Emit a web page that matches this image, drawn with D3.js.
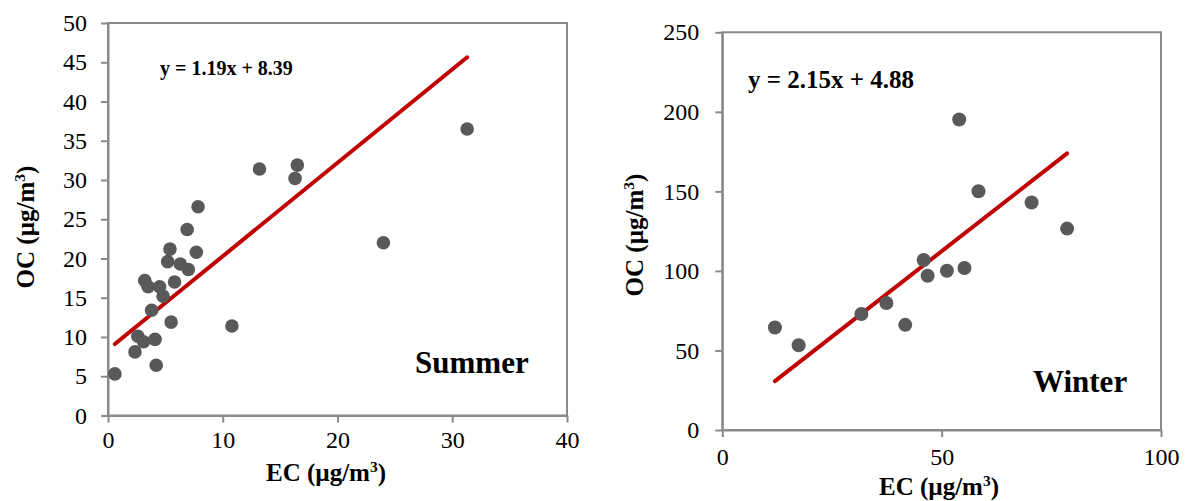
<!DOCTYPE html>
<html>
<head>
<meta charset="utf-8">
<script src="https://cdn.jsdelivr.net/npm/d3@7"></script>
<style>
  html, body { margin: 0; padding: 0; background: #fff; }
  svg text { font-family: "Liberation Serif", "Times New Roman", serif; fill: #000; }
</style>
</head>
<body>
<div id="chart"></div>
<script>
// Summer: EC vs OC (µg/m3)
const summerEC = [0.6, 2.35, 2.6, 3.1, 4.1, 4.2, 3.2, 3.5, 3.8, 4.5, 4.8, 5.5, 5.8, 5.4, 5.2, 6.3, 7.0, 7.7, 6.9, 7.85, 10.8, 13.2, 16.5, 16.3, 24.0, 31.3];
const summerOC = [5.3, 8.1, 10.1, 9.4, 9.7, 6.4, 17.2, 16.4, 13.4, 16.4, 15.2, 11.9, 17.0, 21.2, 19.6, 19.3, 18.6, 20.8, 23.7, 26.6, 11.4, 31.4, 31.9, 30.2, 22.0, 36.5];
const summerFit = { slope: 1.19, intercept: 8.39 };
const summerXTicks = [0, 10, 20, 30, 40];
const summerYTicks = [0, 5, 10, 15, 20, 25, 30, 35, 40, 45, 50];

// Winter
const winterEC = [12.0, 17.4, 31.7, 37.4, 41.7, 45.9, 46.8, 51.2, 55.2, 54.0, 58.4, 70.5, 78.6];
const winterOC = [64.4, 53.3, 72.9, 79.8, 66.1, 106.9, 97.0, 100.1, 101.8, 195.2, 150.1, 143.0, 126.6];
const winterFit = { slope: 2.15, intercept: 4.88 };
const winterXTicks = [0, 50, 100];
const winterYTicks = [0, 50, 100, 150, 200, 250];

const FONT = '"Liberation Serif", "Times New Roman", serif';

const svg = d3.select("#chart").append("svg")
    .attr("width", 1186)
    .attr("height", 501);

svg.append("rect").attr("width", 1186).attr("height", 501).attr("fill", "#fff");

function drawPanel(p) {
    const x = d3.scaleLinear().domain([0, p.xTicks[p.xTicks.length - 1]]).range([p.left, p.right]);
    const y = d3.scaleLinear().domain([0, p.yTicks[p.yTicks.length - 1]]).range([p.bottom, p.top]);
    const g = svg.append("g");

    // plot frame
    g.append("rect")
        .attr("x", p.left).attr("y", p.top)
        .attr("width", p.right - p.left).attr("height", p.bottom - p.top)
        .attr("fill", "none").attr("stroke", "#898989").attr("stroke-width", 2);

    const xAxis = g.append("g")
        .attr("transform", `translate(0,${p.bottom})`)
        .call(d3.axisBottom(x).tickValues(p.xTicks).tickSize(7).tickSizeOuter(0).tickPadding(p.xPad));
    const yAxis = g.append("g")
        .attr("transform", `translate(${p.left},0)`)
        .call(d3.axisLeft(y).tickValues(p.yTicks).tickSize(7).tickSizeOuter(0).tickPadding(p.yPad));

    [xAxis, yAxis].forEach(a => {
        a.attr("font-family", FONT);
        a.select(".domain").attr("stroke", "#898989").attr("stroke-width", 2);
        a.selectAll(".tick line").attr("stroke", "#898989").attr("stroke-width", 2);
        a.selectAll(".tick text")
            .style("font-family", FONT)
            .attr("font-size", p.tickSize).attr("fill", "#000");
    });

    // regression line over the data range
    const pts = p.ec.map((v, i) => ({ ec: v, oc: p.oc[i] }));
    const [x0, x1] = d3.extent(p.ec);
    g.append("line")
        .attr("x1", x(x0)).attr("y1", y(p.fit.slope * x0 + p.fit.intercept))
        .attr("x2", x(x1)).attr("y2", y(p.fit.slope * x1 + p.fit.intercept))
        .attr("stroke", "#c00000").attr("stroke-width", 4).attr("stroke-linecap", "round");

    g.append("g").selectAll("circle")
        .data(pts)
        .enter().append("circle")
        .attr("cx", d => x(d.ec))
        .attr("cy", d => y(d.oc))
        .attr("r", p.r)
        .attr("fill", "#595959");

    g.append("text")
        .attr("x", p.eqX).attr("y", p.eqY)
        .attr("font-size", p.eqSize).attr("font-weight", "bold")
        .text(`y = ${p.fit.slope.toFixed(2)}x + ${p.fit.intercept.toFixed(2)}`);

    g.append("text")
        .attr("x", p.seasonX).attr("y", p.seasonY)
        .attr("font-size", p.seasonSize).attr("font-weight", "bold")
        .text(p.season);

    const xl = g.append("text")
        .attr("x", p.xLabelX).attr("y", p.xLabelY)
        .attr("text-anchor", "middle")
        .attr("font-size", p.labelSize).attr("font-weight", "bold");
    xl.append("tspan").text("EC (µg/m");
    xl.append("tspan").attr("font-size", p.labelSize * 0.62).attr("dy", -p.labelSize * 0.38).text("3");
    xl.append("tspan").attr("dy", p.labelSize * 0.38).text(")");

    const yl = g.append("text")
        .attr("transform", `translate(${p.yLabelX},${p.yLabelY}) rotate(-90)`)
        .attr("text-anchor", "middle")
        .attr("font-size", p.labelSize).attr("font-weight", "bold");
    yl.append("tspan").text("OC (µg/m");
    yl.append("tspan").attr("font-size", p.labelSize * 0.62).attr("dy", -p.labelSize * 0.38).text("3");
    yl.append("tspan").attr("dy", p.labelSize * 0.38).text(")");
}

drawPanel({
    ec: summerEC, oc: summerOC, fit: summerFit, xTicks: summerXTicks, yTicks: summerYTicks,
    left: 108, right: 567, top: 23, bottom: 415.5,
    tickSize: 24, xPad: 8, yPad: 14, r: 6.8,
    eqX: 160, eqY: 75, eqSize: 20,
    season: "Summer", seasonX: 415, seasonY: 373, seasonSize: 31,
    labelSize: 25, xLabelX: 326, xLabelY: 481, yLabelX: 34, yLabelY: 227
});

drawPanel({
    ec: winterEC, oc: winterOC, fit: winterFit, xTicks: winterXTicks, yTicks: winterYTicks,
    left: 722.3, right: 1161, top: 32.3, bottom: 430,
    tickSize: 24, xPad: 11, yPad: 16, r: 7,
    eqX: 748, eqY: 88, eqSize: 25,
    season: "Winter", seasonX: 1033, seasonY: 392, seasonSize: 31,
    labelSize: 25, xLabelX: 939, xLabelY: 495, yLabelX: 643, yLabelY: 235
});
</script>
</body>
</html>
